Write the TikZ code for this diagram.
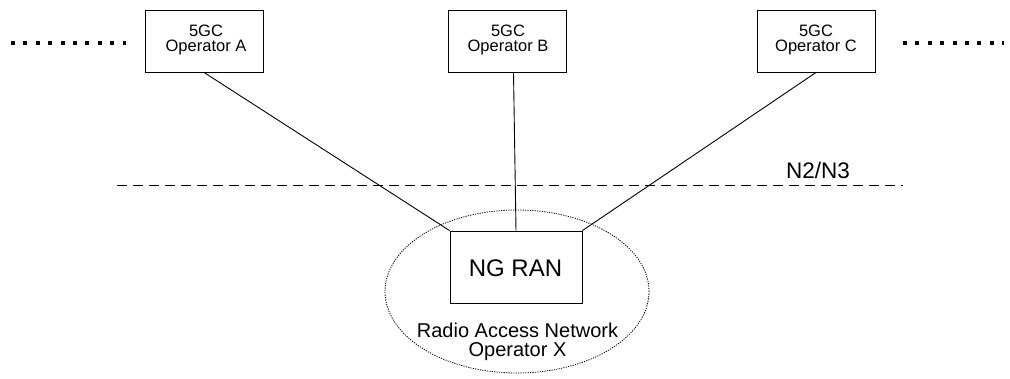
\documentclass[tikz,border=0pt]{standalone}
\usepackage{fontspec}
\setmainfont{Liberation Sans}
\usetikzlibrary{shapes.geometric}
\begin{document}
\begin{tikzpicture}[x=1pt,y=-1pt,
  cnbox/.style={draw,line width=0.9pt,minimum width=118pt,minimum height=62pt,inner sep=0pt,align=center},
  cntext/.style={align=center,inner sep=0pt,font=\fontsize{16.5}{15.5}\selectfont},
  link/.style={line width=0.9pt},
  dotrow/.style={line width=4pt,dash pattern=on 4pt off 8.4pt}]
\useasboundingbox (0,0) rectangle (1010,378);
\node[cnbox] (A) at (204,41) {};
\node[cnbox] (B) at (507.5,41) {};
\node[cnbox] (C) at (816,41) {};
\node[cntext] (At) at (206,40) {5GC\\Operator A};
\node[cntext] (Bt) at (508,40) {5GC\\Operator B};
\node[cntext] (Ct) at (816,40) {5GC\\Operator C};
\node[draw,line width=0.9pt,minimum width=132pt,minimum height=72pt,inner sep=0pt] (R) at (516,267) {};
\node[inner sep=0pt,font=\fontsize{24}{26}\selectfont] (Rt) at (515.5,268) {NG RAN};
\node[draw,ellipse,line width=0.8pt,dash pattern=on 1.2pt off 1.2pt,minimum width=264pt,minimum height=163pt,inner sep=0pt] (E) at (517,291.5) {};
\node[align=center,inner sep=0pt,font=\fontsize{20}{19.5}\selectfont] (T) at (517.5,342) {Radio Access Network\\Operator X};
\coordinate (dl) at (117,185);
\coordinate (dr) at (903,185);
\draw[line width=0.9pt,dash pattern=on 10pt off 6pt] (dl) -- (dr);
\node[font=\fontsize{22.5}{24}\selectfont,inner sep=0pt,anchor=base] (N) at (818,178) {N2/N3};
\coordinate (l1) at (11,43);
\coordinate (l2) at (126,43);
\coordinate (r1) at (903,43);
\coordinate (r2) at (1004,43);
\draw[dotrow] (l1) -- (l2);
\draw[dotrow] (r1) -- (r2);
\draw[link] (A.south) -- (R.north west);
\draw[link] (B.south) ++(6,0) -- (R.north);
\draw[link] (C.south) -- (R.north east);
\end{tikzpicture}
\end{document}
